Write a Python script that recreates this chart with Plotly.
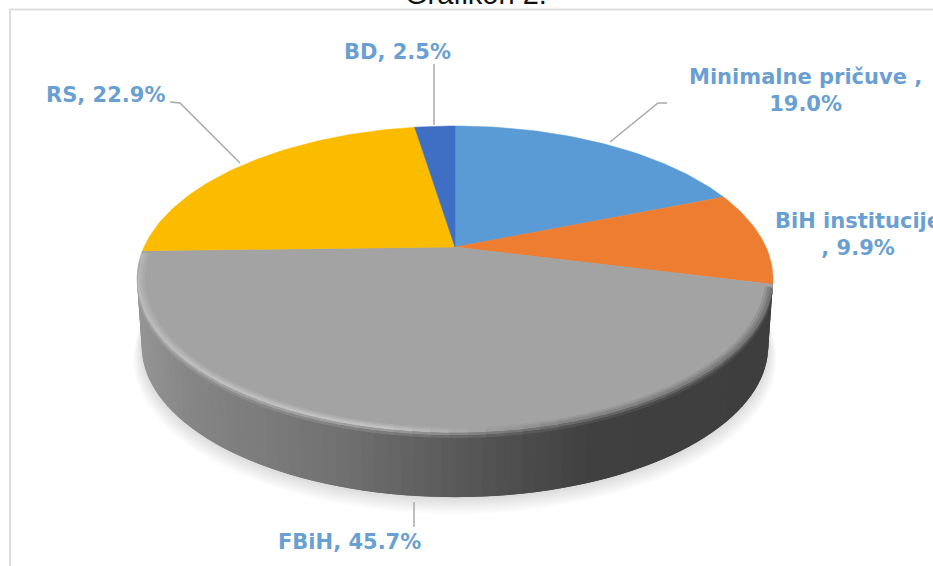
import numpy as np
import plotly.graph_objects as go

categories = ["Minimalne pričuve", "BiH institucije", "FBiH", "RS", "BD"]
shares = [19.0, 9.9, 45.7, 22.9, 2.5]
label_texts = ["Minimalne pričuve ,<br>19.0%", "BiH institucije<br>, 9.9%", "FBiH, 45.7%", "RS, 22.9%", "BD, 2.5%"]
title_text = "Grafikon 2."

COLORS = ["#5b9bd5", "#ed7d31", "#a3a3a3", "#fbbc00", "#3f6fc4"]
LABEL_POS = [(805, 90), (858, 234), (349, 542), (105, 95), (397, 52)]
LEADERS = [
    ([667, 658, 610], [103, 103, 142]),
    ([414, 414], [502, 527]),
    ([170, 180, 240], [102, 103, 163]),
    ([434, 434], [64, 125]),
]

# perspective disc
CX, CY, K, HW, BACK = 455.0, 247.0, 0.209, 318.0, 121.0
A = HW * np.sqrt(1 - K ** 2)
B = BACK * (1 + K)


def disc(theta_deg, s=1.0, dy=0.0):
    t = np.radians(theta_deg)
    u, v = np.sin(t), np.cos(t)
    w = 1 + K * v
    return CX + s * A * u / w, CY + dy - s * B * v / w


def grey(g):
    g = int(round(float(g)))
    return f"rgb({g},{g},{g})"


def side_g(x):
    return np.interp(x, [137, 200, 280, 350, 430, 530, 600, 773],
                     [0x96, 0x84, 0x7a, 0x70, 0x60, 0x4c, 0x40, 0x3e])


def hl_g(t):
    return np.interp(t, [100, 165, 190, 260], [0x70, 0x88, 0xc2, 0xb8])


def poly(xs, ys, color):
    return go.Scatter(x=list(xs), y=list(ys), mode="lines", fill="toself", fillcolor=color,
                      line=dict(width=0), hoverinfo="skip", showlegend=False)


fig = go.Figure()

# soft shadow
ring = np.linspace(0, 360, 241)
for i in range(12):
    x, y = disc(ring, 1.012 - i * 0.0025, 80 - i * 1.0)
    fig.add_trace(poly(x, y, "rgba(0,0,0,0.011)"))

# side wall: each strip overlaps the next so no seams appear
S2, D2 = 0.985, 68.0
edges = np.linspace(100, 260, 81)
step = edges[1] - edges[0]
for a0 in edges[:-1]:
    a1 = a0 + step * 2 if a0 + step * 2 <= 260 else 260
    x0, y0 = disc(np.array([a0, a1]))
    x1, y1 = disc(np.array([a1, a0]), S2, D2)
    mid = (x0[0] + x1[1]) / 2
    fig.add_trace(poly(np.r_[x0, x1], np.r_[y0, y1], grey(side_g(mid))))

# top face slices
cum = np.r_[0, np.cumsum(shares)] / sum(shares) * 360
for i, cat in enumerate(categories):
    t = np.linspace(cum[i], cum[i + 1], max(int(shares[i] * 3), 8))
    x, y = disc(t)
    fig.add_trace(go.Scatter(x=np.r_[CX, x, CX], y=np.r_[CY, y, CY], mode="lines", fill="toself",
                             fillcolor=COLORS[i], line=dict(width=0.5, color=COLORS[i]),
                             name=cat, hoverinfo="name", showlegend=False))

# bevel along the grey slice rim
FACE = 0xa3
gs = np.linspace(cum[2] + 1, cum[3] - 1, 61)
gstep = gs[1] - gs[0]
bands = [
    (.976, 0, .984, 0, .3),
    (.984, 0, .992, 0, .65),
    (.992, 0, 1, 1, 1.0),
]
for a0 in gs[:-1]:
    a1 = min(a0 + 2 * gstep, gs[-1])
    m = a0 + gstep / 2
    hl = hl_g(m)
    sd = side_g(disc(np.array([m]))[0][0])
    for (s0, d0, s1, d1, f) in bands:
        x0, y0 = disc(np.array([a0, a1]), s0, d0)
        x1, y1 = disc(np.array([a1, a0]), s1, d1)
        fig.add_trace(poly(np.r_[x0, x1], np.r_[y0, y1], grey(FACE * (1 - f) + hl * f)))
    for (d0, d1, f) in [(1, 3.5, .55), (3.5, 6, .2)]:
        x0, y0 = disc(np.array([a0, a1]), 1, d0)
        x1, y1 = disc(np.array([a1, a0]), 1, d1)
        fig.add_trace(poly(np.r_[x0, x1], np.r_[y0, y1], grey(hl * f + sd * (1 - f))))

# leader lines
for lx, ly in LEADERS:
    fig.add_trace(go.Scatter(x=lx, y=ly, mode="lines", line=dict(color="#a9a9a9", width=1.5),
                             hoverinfo="skip", showlegend=False))

annotations = [
    dict(x=p[0], y=p[1], xref="x", yref="y", text=t, showarrow=False, align="center",
         xanchor="center", yanchor="middle",
         font=dict(family="DejaVu Sans", size=21, color="#6a9fd3", weight="bold"))
    for t, p in zip(label_texts, LABEL_POS)
]
annotations.append(dict(x=476 / 933, y=1 + 6 / 566, xref="paper", yref="paper", text=title_text,
                        showarrow=False, xanchor="center", yanchor="middle",
                        font=dict(family="Liberation Sans", size=29, color="#111111")))

fig.update_layout(
    width=933, height=566, margin=dict(l=0, r=0, t=0, b=0),
    paper_bgcolor="white", plot_bgcolor="white", showlegend=False,
    xaxis=dict(range=[0, 933], visible=False, fixedrange=True),
    yaxis=dict(range=[566, 0], visible=False, fixedrange=True),
    annotations=annotations,
    shapes=[
        dict(type="line", x0=10, x1=933, y0=9.5, y1=9.5, line=dict(color="#dedede", width=2), layer="below"),
        dict(type="line", x0=10, x1=10, y0=9, y1=566, line=dict(color="#dedede", width=2), layer="below"),
    ],
)

fig.write_html("out.html", config=dict(displayModeBar=False),
               post_script="document.body.style.margin='0';document.documentElement.style.overflow='hidden';")
